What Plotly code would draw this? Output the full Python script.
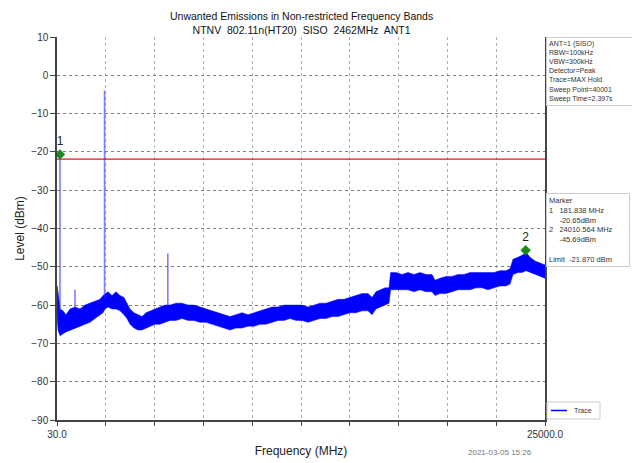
import plotly.graph_objects as go

# Trace envelope (MAX Hold), frequency in MHz, upper / lower level in dBm
freq_mhz = [30, 81, 184, 337, 490, 695, 951, 1207, 1463, 1719, 1974, 2230, 2384, 2486,
            2640, 2844, 3049, 3254, 3458, 3612, 3765, 3970, 4175, 4379, 4584, 4789, 5045,
            5301, 5557, 5813, 6120, 6426, 6733, 7040, 7347, 7654, 7961, 8268, 8575, 8882,
            9189, 9496, 9803, 10110, 10417, 10724, 11032, 11339, 11646, 11953, 12260,
            12567, 12874, 13181, 13488, 13795, 14102, 14409, 14716, 15023, 15330, 15637,
            15944, 16149, 16353, 16558, 16814, 17018, 17100, 17376, 17683, 17990, 18297,
            18604, 18911, 19218, 19372, 19628, 19935, 20242, 20549, 20856, 21163, 21470,
            21777, 22084, 22391, 22698, 23005, 23210, 23363, 23619, 23824, 24029, 24234,
            24490, 24746, 25000]
upper_dbm = [-55, -56.5, -61, -61.5, -62.5, -61, -60.5, -61, -60, -59.5, -59, -58.5, -57.5,
             -57, -56.5, -57.5, -56.5, -57.5, -58, -59.5, -61, -62, -62.5, -63, -62, -61.5,
             -61, -60.5, -60, -60, -59.5, -59.5, -60, -60, -60.5, -61, -61.5, -62, -62.5,
             -63, -62.5, -62, -62.5, -62, -61.5, -61, -60.5, -60.5, -60, -60, -60,
             -60, -60.5, -60, -59.5, -59.5, -59, -58.5, -58.5, -58, -57.5, -57, -57, -58,
             -56.5, -56, -55.5, -55.5, -51.5, -51.5, -52, -51.5, -52, -51.5, -52, -52, -53.5,
             -53, -52.5, -52.5, -52, -52, -51.5, -51.5, -51.5, -51.5, -51.5, -51, -51, -50.5,
             -48, -47.5, -47, -46.2, -47.5, -48.5, -49, -49.5]
lower_dbm = [-62, -66.5, -68, -67.5, -67, -66.5, -66, -65.5, -65, -64.5, -63.5, -62.5, -62,
             -61, -60.5, -61, -61, -61.5, -62.5, -63.5, -65, -66, -66.5, -66.5, -66, -65.5,
             -65, -65, -64.5, -64, -64, -63.5, -64, -64, -64.5, -64.5, -65, -65.5,
             -66, -66.5, -66, -66, -65.5, -65.5, -65, -65, -64.5, -64, -64, -63.5,
             -64, -64, -64.5, -64, -63.5, -63.5, -63, -63, -62.5, -62, -62, -61.5, -61.5,
             -62.5, -61, -60.5, -60, -59.5, -56, -56, -56, -56, -56.5, -56, -56.5, -56.5,
             -57.5, -57, -57, -56.5, -56, -56, -56, -55.5, -55.5, -56, -55.5, -55,
             -55, -54.5, -52, -51.5, -51.5, -51, -51.5, -52, -52.5, -53]

# Narrow spurs above the noise floor: frequency, floor level, peak level
spur_freq = [30, 181.838, 951, 2462, 5700]
spur_floor = [-65, -62, -61, -58, -60]
spur_peak = [-55, -20.65, -56, -4, -46.5]

# Markers
marker_id = ["1", "2"]
marker_freq = [181.838, 24010.564]
marker_level = [-20.65, -45.69]
limit_dbm = -21.870

x_min, x_max = 30.0, 25000.0
y_ticks = [10, 0, -10, -20, -30, -40, -50, -60, -70, -80, -90]
x_grid = [x_min + k * (x_max - x_min) / 10 for k in range(11)]
x_ticktext = ["30.0"] + [""] * 9 + ["25000.0"]

setup_lines = ["ANT=1 (SISO)", "RBW=100kHz", "VBW=300kHz", "Detector=Peak",
               "Trace=MAX Hold", "Sweep Point=40001", "Sweep Time=2.397s"]

BLUE = "#0000ff"
GREEN = "#1a8a1a"
FONT = "Liberation Sans, Arial, sans-serif"

# plot area in pixels
L, R, T, B = 57, 87, 37, 43
W, H = 632, 463
PH = H - T - B  # plot height
PW = W - L - R  # plot width


def py(px):
    """paper y from a pixel row"""
    return (H - B - px) / PH


def pxx(px):
    """paper x from a pixel column"""
    return (px - L) / PW


fig = go.Figure()

# Noise band of the trace as a closed polygon
fig.add_trace(go.Scatter(
    x=freq_mhz + freq_mhz[::-1],
    y=upper_dbm + lower_dbm[::-1],
    mode="lines", fill="toself", fillcolor=BLUE,
    line=dict(color=BLUE, width=0.5), showlegend=False, hoverinfo="skip"))

# Spurs
for f, lo, hi in zip(spur_freq, spur_floor, spur_peak):
    fig.add_trace(go.Scatter(
        x=[f, f], y=[lo, hi], mode="lines",
        line=dict(color="rgba(40,40,255,0.6)", width=1.6),
        showlegend=False, hoverinfo="skip"))

# Limit line
fig.add_trace(go.Scatter(
    x=[x_min, x_max], y=[limit_dbm, limit_dbm], mode="lines",
    line=dict(color="#e8141e", width=1.3), showlegend=False, hoverinfo="skip"))

# Markers
fig.add_trace(go.Scatter(
    x=marker_freq, y=marker_level, mode="markers+text",
    marker=dict(symbol="diamond", size=8, color=GREEN),
    text=marker_id, textposition="top center",
    textfont=dict(family=FONT, size=12, color="#222"),
    showlegend=False, hoverinfo="skip"))

marker_text = "<br>".join([
    "Marker",
    "1   {:.3f} MHz".format(marker_freq[0]),
    "     {:.2f}dBm".format(marker_level[0]),
    "2   {:.3f} MHz".format(marker_freq[1]),
    "     {:.2f}dBm".format(marker_level[1]),
    " ",
    "Limit  {:.3f} dBm".format(limit_dbm),
])

fig.update_layout(
    width=W, height=H,
    margin=dict(l=L, r=R, t=T, b=B, autoexpand=False),
    paper_bgcolor="white", plot_bgcolor="white",
    font=dict(family=FONT, color="#222"),
    showlegend=False,
    xaxis=dict(
        range=[x_min, x_max], tickmode="array", tickvals=x_grid, ticktext=x_ticktext,
        showgrid=True, gridcolor="#b0b0b0", griddash="dot", gridwidth=1,
        showline=True, linecolor="#444", linewidth=1.5,
        ticks="outside", ticklen=4, tickcolor="#444",
        tickfont=dict(family=FONT, size=10, color="#333"),
        title=dict(text="Frequency (MHz)", standoff=8,
                   font=dict(family=FONT, size=12, color="#222")),
        zeroline=False),
    yaxis=dict(
        range=[-90, 10], tickmode="array", tickvals=y_ticks,
        showgrid=True, gridcolor="#808080", griddash="dot", gridwidth=1,
        showline=True, linecolor="#444", linewidth=1.5, mirror=True,
        ticks="outside", ticklen=5, tickcolor="#444",
        tickfont=dict(family=FONT, size=10, color="#333"),
        title=dict(text="Level (dBm)", standoff=4,
                   font=dict(family=FONT, size=12, color="#222")),
        zeroline=False),
)

# Title, two centred lines above the plot
fig.add_annotation(
    xref="paper", yref="paper", x=0.5, y=py(8), xanchor="center", yanchor="top",
    text="Unwanted Emissions in Non-restricted Frequency Bands<br>"
         "NTNV  802.11n(HT20)  SISO  2462MHz  ANT1",
    showarrow=False, font=dict(family=FONT, size=10.5, color="#111"))

# Instrument settings box
fig.add_annotation(
    xref="paper", yref="paper", x=pxx(546), y=1.0, xanchor="left", yanchor="top",
    text="<br>".join(setup_lines), align="left", showarrow=False, width=81,
    bordercolor="#cccccc", borderwidth=1, borderpad=2, bgcolor="white",
    font=dict(family=FONT, size=7, color="#333"))

# Marker readout box
fig.add_annotation(
    xref="paper", yref="paper", x=pxx(546), y=py(193), xanchor="left", yanchor="top",
    text=marker_text, align="left", showarrow=False, width=78,
    bordercolor="#cccccc", borderwidth=1, borderpad=2, bgcolor="white",
    font=dict(family=FONT, size=7.5, color="#333"))

# Legend box with the trace sample line
fig.add_shape(type="rect", xref="paper", yref="paper",
              x0=pxx(547), x1=pxx(600), y0=py(419), y1=py(402),
              line=dict(color="#cccccc", width=1), fillcolor="white", layer="above")
fig.add_shape(type="line", xref="paper", yref="paper",
              x0=pxx(551), x1=pxx(567), y0=py(410.5), y1=py(410.5),
              line=dict(color=BLUE, width=1.5), layer="above")
fig.add_annotation(
    xref="paper", yref="paper", x=pxx(572), y=py(410.5), xanchor="left", yanchor="middle",
    text="Trace", showarrow=False, font=dict(family=FONT, size=7, color="#333"))

fig.add_annotation(
    xref="paper", yref="paper", x=pxx(500), y=py(452),
    xanchor="center", yanchor="middle", text="2021-03-05 15:26", showarrow=False,
    font=dict(family=FONT, size=8, color="#777"))

fig.write_html("out.html")
